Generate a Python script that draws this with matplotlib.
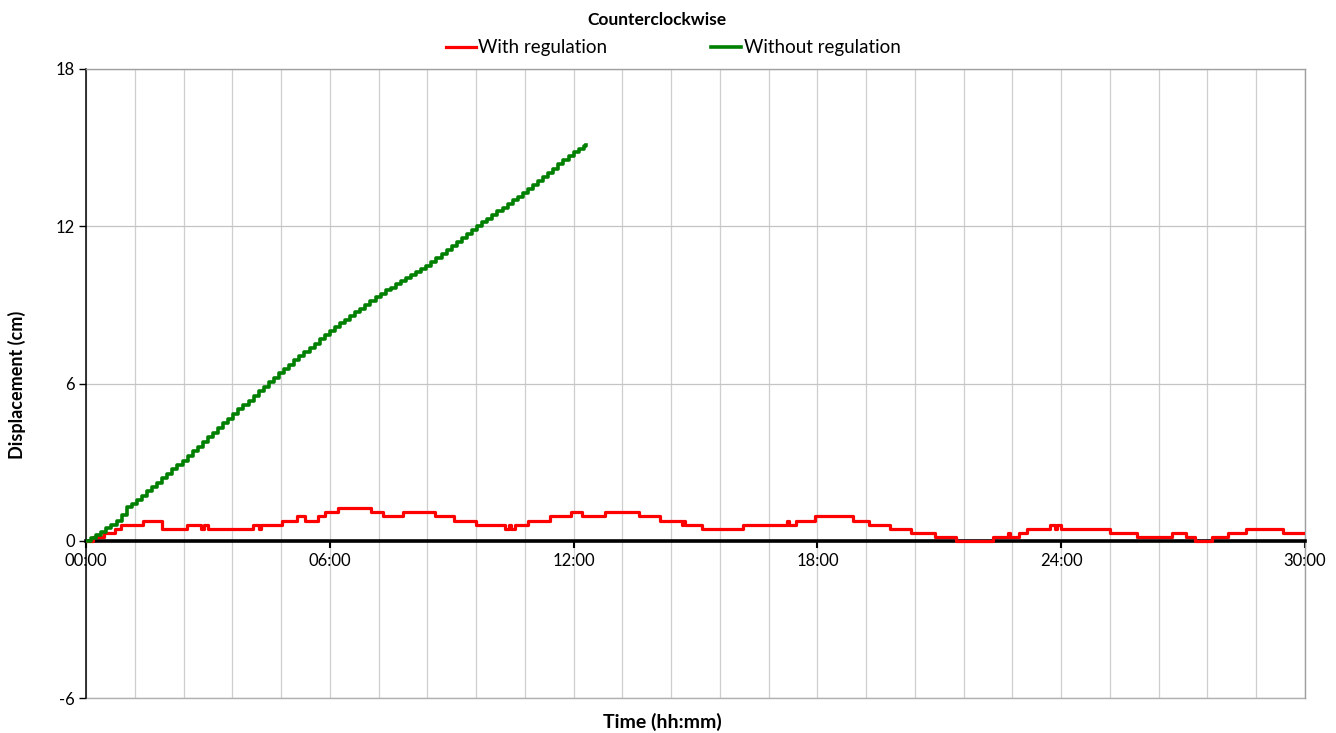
import numpy as np
import matplotlib
matplotlib.use('Agg')
import matplotlib.pyplot as plt
from matplotlib.ticker import MultipleLocator, FixedLocator, FixedFormatter

plt.rcParams['font.family'] = ['Lato', 'DejaVu Sans']
plt.rcParams['axes.unicode_minus'] = False

# step levels of the regulated run (cm)
lvl = [0.0, 0.15, 0.31, 0.46, 0.62, 0.77, 0.93, 1.08, 1.24]

# with regulation: time (h) at which each level starts, and the level index
red_t = [0.0, 0.18, 0.45, 0.71, 0.86, 1.41, 1.86, 2.48, 2.84, 2.90, 3.00, 4.12, 4.26, 4.30,
         4.82, 5.19, 5.38, 5.72, 5.87, 6.21, 7.02, 7.31, 7.80, 8.58, 9.06, 9.59, 10.30,
         10.40, 10.45, 10.55, 10.88, 11.41, 11.94, 12.21, 12.78, 13.60, 14.13, 14.66,
         14.70, 14.75, 15.16, 16.18, 17.26, 17.31, 17.47, 17.95, 18.87, 19.28, 19.79,
         20.31, 20.90, 21.40, 22.32, 22.70, 22.74, 22.95, 23.16, 23.73, 23.84, 23.90,
         24.00, 25.21, 25.86, 26.72, 27.08, 27.30, 27.72, 28.10, 28.56, 29.47, 30.00]
red_k = [0, 1, 2, 3, 4, 5, 3, 4, 3, 4, 3, 4, 3, 4,
         5, 6, 5, 6, 7, 8, 7, 6, 7, 6, 5, 4, 3,
         4, 3, 4, 5, 6, 7, 6, 7, 6, 5, 4,
         5, 4, 3, 4, 5, 4, 5, 6, 5, 4, 3,
         2, 1, 0, 1, 2, 1, 2, 3, 4, 3, 4,
         3, 2, 1, 2, 1, 0, 1, 2, 3, 2, 2]
red_v = [lvl[k] for k in red_k]

# without regulation: readings every 7.5 minutes (cm)
green_v = [0.00, 0.11, 0.21, 0.33, 0.48, 0.62, 0.77, 0.97, 1.30, 1.40,
           1.54, 1.71, 1.88, 2.05, 2.22, 2.38, 2.55, 2.72, 2.89, 3.06,
           3.23, 3.41, 3.59, 3.77, 3.95, 4.12, 4.30, 4.48, 4.66, 4.83,
           5.01, 5.18, 5.35, 5.53, 5.70, 5.87, 6.05, 6.22, 6.39, 6.56,
           6.72, 6.88, 7.04, 7.20, 7.36, 7.52, 7.68, 7.84, 8.00, 8.14,
           8.29, 8.43, 8.58, 8.72, 8.86, 9.01, 9.15, 9.29, 9.43, 9.55,
           9.66, 9.78, 9.90, 10.02, 10.14, 10.26, 10.38, 10.50, 10.64, 10.79,
           10.95, 11.10, 11.25, 11.40, 11.55, 11.71, 11.86, 12.01, 12.15, 12.29,
           12.43, 12.57, 12.71, 12.85, 12.99, 13.13, 13.26, 13.41, 13.57, 13.73,
           13.89, 14.04, 14.20, 14.36, 14.52, 14.67, 14.83, 14.94, 15.05, 15.10]
green_t = [i * 0.125 for i in range(len(green_v) - 1)] + [12.3]

xtick_pos = [0, 6, 12, 18, 24, 30]
xtick_lab = ['00:00', '06:00', '12:00', '18:00', '24:00', '30:00']
ytick_pos = [-6, 0, 6, 12, 18]

fig = plt.figure(figsize=(13.36, 7.33), dpi=100)
ax = fig.add_axes([0.0644, 0.0477, 0.9124, 0.8582])

ax.plot(red_t, red_v, color='#ff0000', lw=2.3, drawstyle='steps-post', zorder=3,
        label='With regulation')
ax.plot(green_t, green_v, color='#008000', lw=2.6, drawstyle='steps-post', zorder=4,
        label='Without regulation')

ax.set_xlim(0, 30)
ax.set_ylim(-6, 18)
ax.xaxis.set_major_locator(FixedLocator(xtick_pos))
ax.xaxis.set_major_formatter(FixedFormatter(xtick_lab))
ax.xaxis.set_minor_locator(MultipleLocator(1.2))
ax.set_yticks(ytick_pos)

ax.grid(which='both', axis='x', color='#cfcfcf', lw=0.9, zorder=0)
ax.grid(which='major', axis='y', color='#c4c4c4', lw=0.9, zorder=0)
ax.axhline(-6, color='#b0b0b0', lw=1.0, clip_on=False, zorder=1)
ax.set_axisbelow(True)

ax.spines['bottom'].set_position(('data', 0))
ax.spines['bottom'].set_linewidth(2.6)
ax.spines['bottom'].set_color('black')
ax.spines['left'].set_linewidth(1.1)
ax.spines['left'].set_color('black')
for s in ('top', 'right'):
    ax.spines[s].set_color('#a0a0a0')
    ax.spines[s].set_linewidth(1.0)

ax.tick_params(axis='x', which='major', direction='out', length=5, width=1.5,
               labelsize=12, pad=4)
ax.tick_params(axis='x', which='minor', length=0)
ax.tick_params(axis='y', direction='out', length=5, width=1, labelsize=12, pad=3)

fig.text(657 / 1336, 1 - 20 / 733, 'Counterclockwise', ha='center', va='center',
         fontsize=12.5, fontweight='bold')
fig.text(17 / 1336, 1 - 385 / 733, 'Displacement (cm)', ha='center', va='center',
         rotation=90, fontsize=13, fontweight='bold')
fig.text(662 / 1336, 1 - 722 / 733, 'Time (hh:mm)', ha='center', va='center',
         fontsize=14, fontweight='bold')

fig.legend(loc='center', bbox_to_anchor=(673 / 1336, 1 - 48 / 733), ncol=2,
           frameon=False, fontsize=13.5, handlelength=1.6, handletextpad=0.15,
           columnspacing=5.5)

fig.savefig('out.png', dpi=100)
